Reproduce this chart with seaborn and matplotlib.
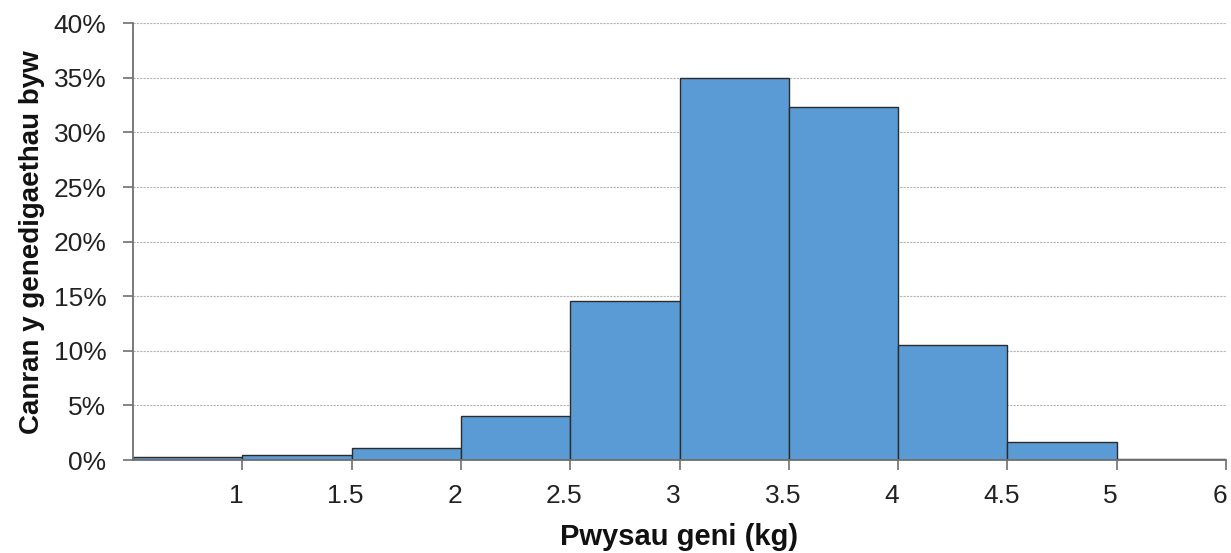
import matplotlib
matplotlib.use("Agg")
import matplotlib.pyplot as plt
import matplotlib.transforms as mtransforms
import seaborn as sns
import numpy as np
import pandas as pd
from matplotlib.ticker import FuncFormatter

# birth weight bands (upper edge labels) and share of live births (%)
tick_labels = ["1", "1.5", "2", "2.5", "3", "3.5", "4", "4.5", "5", "6"]
percent = [0.3, 0.5, 1.1, 4.0, 14.6, 35.0, 32.3, 10.5, 1.65, 0.1]

df = pd.DataFrame({"band": np.arange(len(percent)) + 0.5, "pct": percent})

sns.set_style("white")
plt.rcParams["font.family"] = ["Liberation Sans", "DejaVu Sans"]

fig = plt.figure(figsize=(12.31, 5.53), dpi=100)
ax = fig.add_axes([0.108, 0.168, 0.888, 0.790])

sns.histplot(
    data=df,
    x="band",
    weights="pct",
    bins=len(percent),
    binrange=(0, len(percent)),
    color="#5B9BD5",
    edgecolor="#2b2b2b",
    linewidth=1.0,
    alpha=1.0,
    ax=ax,
)

ax.set_xlim(0, len(percent))
ax.set_ylim(0, 40)
ax.set_xticks(np.arange(1, len(percent) + 1))
ax.set_xticklabels(tick_labels)
ax.set_yticks(np.arange(0, 41, 5))
ax.yaxis.set_major_formatter(FuncFormatter(lambda v, p: f"{v:.0f}%"))

ax.grid(axis="y", color="#b5b5b5", linestyle=(0, (2, 1)), linewidth=0.8)
ax.set_axisbelow(True)

sns.despine(ax=ax, top=True, right=True)
for side in ["left", "bottom"]:
    ax.spines[side].set_color("#707070")
    ax.spines[side].set_linewidth(1.3)

ax.tick_params(axis="both", which="major", direction="out", length=7,
               width=1.2, color="#707070", labelsize=19, labelcolor="#222222",
               bottom=True, left=True)
ax.tick_params(axis="x", pad=10)
ax.tick_params(axis="y", pad=12)

# x labels sit a little left of their ticks in the original
shift = mtransforms.ScaledTranslation(-0.06, 0, fig.dpi_scale_trans)
for lab in ax.get_xticklabels():
    lab.set_transform(lab.get_transform() + shift)

ax.set_xlabel("Pwysau geni (kg)", fontsize=21, fontweight="bold", color="#111111", labelpad=11)
ax.set_ylabel("Canran y genedigaethau byw", fontsize=20, fontweight="bold", color="#111111", labelpad=6)

fig.savefig("out.png", dpi=100)
